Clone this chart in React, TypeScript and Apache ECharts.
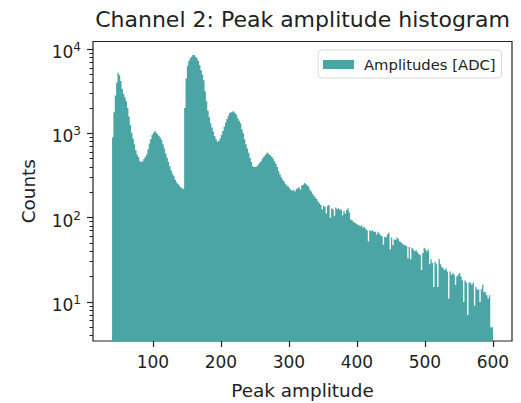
import React, { useEffect, useRef } from "react";
import * as echarts from "echarts";

// Histogram: bins of 2 ADC starting at 40 (edges 40, 42, ..., 600)
const binStart = 40;
const binWidth = 2;
const counts = [
  180, 900, 1780, 2820, 3980, 5250, 4900, 4170, 3390, 2950,
  2690, 2400, 2000, 1580, 1260, 1020, 871, 741, 631, 562,
  525, 468, 457, 468, 501, 525, 562, 646, 759, 851,
  955, 1020, 1070, 1020, 977, 933, 891, 832, 741, 661,
  575, 513, 457, 407, 363, 331, 309, 282, 263, 251,
  240, 229, 224, 219, 2000, 4470, 6310, 7240, 7760, 8130,
  8510, 8510, 8130, 7760, 7240, 6460, 5620, 5010, 4270, 3160,
  2400, 1860, 1550, 1320, 1170, 1050, 933, 851, 794, 813,
  871, 955, 1070, 1200, 1350, 1480, 1620, 1740, 1780, 1820,
  1820, 1740, 1660, 1510, 1410, 1320, 1120, 1000, 851, 741,
  661, 589, 513, 457, 407, 398, 398, 407, 427, 447,
  468, 501, 525, 550, 575, 589, 562, 550, 525, 501,
  468, 437, 398, 355, 324, 302, 282, 269, 251, 240,
  234, 224, 214, 209, 214, 204, 219, 224, 229, 214,
  240, 245, 257, 251, 240, 234, 214, 204, 191, 182,
  174, 166, 155, 148, 141, 126, 138, 135, 112, 138,
  141, 100, 129, 126, 105, 132, 126, 129, 123, 126,
  107, 120, 112, 123, 129, 115, 95, 93, 89, 87,
  85, 83, 81, 79, 81, 76, 78, 74, 71, 52,
  71, 69, 71, 68, 68, 63, 68, 65, 62, 60,
  48, 59, 58, 63, 66, 42, 58, 47, 55, 54,
  58, 56, 52, 51, 49, 48, 47, 46, 33, 45,
  32, 44, 42, 40, 41, 39, 37, 36, 24, 38,
  44, 42, 40, 42, 28, 32, 29, 15, 30, 28,
  15, 32, 28, 26, 25, 24, 25, 23, 11, 23,
  21, 22, 21, 16, 20, 21, 22, 20, 18, 10,
  18, 17, 7, 17, 17, 16, 17, 9, 15, 14,
  14, 10, 14, 16, 13, 13, 12, 11, 12, 5,
];

const xTicks = [100, 200, 300, 400, 500, 600];
const xRange = [12, 628];
const yExponents = [1, 2, 3, 4];
const yMinorMultipliers = [2, 3, 4, 5, 6, 7, 8, 9];
const yRange = [3.44, 12300];

const titleText = "Channel 2: Peak amplitude histogram";
const xName = "Peak amplitude";
const yName = "Counts";
const seriesName = "Amplitudes [ADC]";

const FONT = "DejaVu Sans";
const INK = "#222222";
const TEAL = "#4ca5a5";

export default function App() {
  const ref = useRef<HTMLDivElement>(null);

  useEffect(() => {
    if (!ref.current) return;
    const chart = echarts.init(ref.current, null, { renderer: "svg" });

    const yMin = Math.log10(yRange[0]);
    const yMax = Math.log10(yRange[1]);

    const points: number[][] = counts.map((c, i) => [
      binStart + i * binWidth,
      Math.log10(c),
    ]);
    points.push([
      binStart + counts.length * binWidth,
      Math.log10(counts[counts.length - 1]),
    ]);

    const minorValues: number[] = [];
    for (let n = 0; n <= 4; n++) {
      for (const k of yMinorMultipliers) {
        const v = Math.log10(k * Math.pow(10, n));
        if (v >= yMin && v <= yMax) minorValues.push(v);
      }
    }

    const option: any = {
      animation: false,
      textStyle: { fontFamily: FONT },
      graphic: [
        {
          type: "text",
          x: 302.5,
          y: 8,
          style: {
            text: titleText,
            fontSize: 22,
            fontFamily: FONT,
            fill: INK,
            align: "center",
            textAlign: "center",
            verticalAlign: "top",
            textVerticalAlign: "top",
          },
        },
      ],
      legend: {
        left: 318,
        top: 50,
        orient: "horizontal",
        padding: [7, 6, 6, 5],
        itemWidth: 31,
        itemHeight: 9,
        itemGap: 0,
        icon: "rect",
        selectedMode: false,
        backgroundColor: "#ffffff",
        borderColor: "#d9d9d9",
        borderWidth: 1,
        borderRadius: 4,
        textStyle: {
          fontSize: 14.8,
          color: INK,
          fontFamily: FONT,
          padding: [0, 0, 0, 5],
        },
        data: [{ name: seriesName, icon: "rect" }],
      },
      grid: {
        left: 93,
        right: 9,
        top: 41.5,
        bottom: 62,
        show: true,
        borderColor: INK,
        borderWidth: 1.2,
        backgroundColor: "transparent",
        outerBoundsMode: "none",
      },
      xAxis: {
        type: "value",
        min: xRange[0],
        max: xRange[1],
        name: xName,
        nameLocation: "middle",
        nameGap: 40,
        nameTextStyle: { fontSize: 18.4, color: INK, fontFamily: FONT },
        axisLine: { show: false },
        splitLine: { show: false },
        axisTick: {
          show: true,
          customValues: xTicks,
          length: 6,
          lineStyle: { color: INK, width: 1.2 },
        },
        axisLabel: {
          customValues: xTicks,
          fontSize: 17,
          color: INK,
          fontFamily: FONT,
          margin: 12,
        },
      },
      yAxis: [
        {
          type: "value",
          min: yMin,
          max: yMax,
          name: yName,
          nameLocation: "middle",
          nameGap: 56,
          nameRotate: 90,
          nameTextStyle: { fontSize: 18.4, color: INK, fontFamily: FONT },
          axisLine: { show: false },
          splitLine: { show: false },
          axisTick: {
            show: true,
            customValues: yExponents,
            length: 6,
            lineStyle: { color: INK, width: 1.2 },
          },
          axisLabel: {
            customValues: yExponents,
            margin: 12,
            padding: [6, 0, 0, 0],
            formatter: (v: number) => `{b|10}{s|${Math.round(v)}}`,
            rich: {
              b: {
                fontSize: 17,
                lineHeight: 22,
                color: INK,
                fontFamily: FONT,
              },
              s: {
                fontSize: 12,
                lineHeight: 12,
                verticalAlign: "top",
                color: INK,
                fontFamily: FONT,
              },
            },
          },
        },
        {
          type: "value",
          min: yMin,
          max: yMax,
          position: "left",
          offset: 0,
          axisLine: { show: false },
          splitLine: { show: false },
          axisLabel: { show: false },
          axisTick: {
            show: true,
            customValues: minorValues,
            length: 3.5,
            lineStyle: { color: INK, width: 1 },
          },
        },
      ],
      series: [
        {
          type: "line",
          name: seriesName,
          data: points,
          yAxisIndex: 0,
          step: "start",
          showSymbol: false,
          symbol: "none",
          color: TEAL,
          itemStyle: { color: TEAL },
          lineStyle: { width: 0, color: TEAL },
          areaStyle: { color: TEAL, opacity: 1, origin: "start" },
        },
      ],
    };

    chart.setOption(option);
    return () => chart.dispose();
  }, []);

  return (
    <div
      ref={ref}
      style={{
        position: "fixed",
        left: 0,
        top: 0,
        width: 521,
        height: 403,
        background: "#ffffff",
      }}
    />
  );
}
